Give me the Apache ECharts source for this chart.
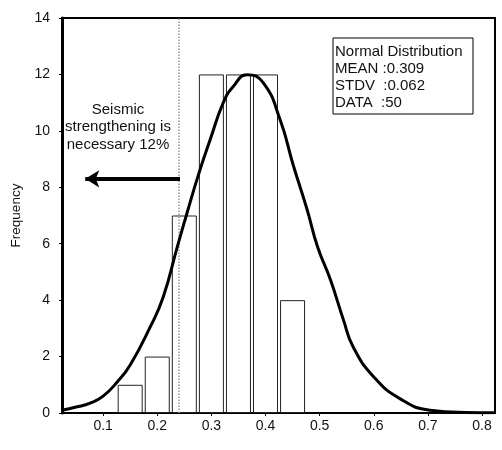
<!DOCTYPE html>
<html>
<head>
<meta charset="utf-8">
<script src="https://cdn.jsdelivr.net/npm/echarts@6/dist/echarts.min.js"></script>
<style>html,body{margin:0;padding:0;background:#fff}#c{width:502px;height:450px}</style>
</head>
<body>
<div id="c"></div>
<script>
// Histogram bins (bin centre) and frequencies
var binCenters = [0.15, 0.20, 0.25, 0.30, 0.35, 0.40, 0.45];
var frequencies = [1, 2, 7, 12, 12, 12, 4];
// Fitted curve as drawn
var curveX = [0.024,0.05,0.076,0.1,0.126,0.15,0.187,0.211,0.237,0.255,0.276,0.298,0.322,0.34,0.366,0.396,0.427,0.451,0.477,0.496,0.52,0.544,0.562,0.6,0.649,0.704,0.77,0.824];
var curveY = [0.1,0.21,0.35,0.6,1.1,1.7,3.05,4.11,5.89,7.09,8.44,9.7,11.0,11.56,11.99,11.7,10.39,8.8,7.2,5.9,4.72,3.3,2.34,1.28,0.5,0.1,0.02,0.01];
var xTicks = [0.1,0.2,0.3,0.4,0.5,0.6,0.7,0.8];
var thresholdX = 0.242;
var arrowY = 8.3;
var arrowTipX = 0.067;
var annotation = ['Seismic', 'strengthening is', 'necessary 12%'];
var infoLines = ['Normal Distribution', 'MEAN :0.309', 'STDV  :0.062', 'DATA  :50'];

var FONT = 'Liberation Sans, Arial, sans-serif';
var chart = echarts.init(document.getElementById('c'), null, {renderer: 'canvas'});
chart.setOption({
  animation: false,
  backgroundColor: '#fff',
  grid: {left: 62, top: 18, right: 7, bottom: 37, show: true, borderColor: '#000', borderWidth: 2, backgroundColor: '#fff'},
  xAxis: {
    type: 'value', min: 0.024, max: 0.824,
    axisLine: {show: true, lineStyle: {color: '#000', width: 2}},
    axisTick: {show: true, length: 3, customValues: xTicks, lineStyle: {color: '#000'}},
    axisLabel: {customValues: xTicks, color: '#111', fontFamily: FONT, fontSize: 14, margin: 6,
      formatter: function (v) { return String(Math.round(v * 10) / 10); }},
    splitLine: {show: false}
  },
  yAxis: {
    type: 'value', min: 0, max: 14, interval: 2,
    name: 'Frequency', nameLocation: 'middle', nameGap: 30, nameRotate: 90,
    nameTextStyle: {color: '#111', fontFamily: FONT, fontSize: 13.5},
    axisLine: {show: true, lineStyle: {color: '#000', width: 3}},
    axisTick: {show: true, length: 3, lineStyle: {color: '#000'}},
    axisLabel: {color: '#111', fontFamily: FONT, fontSize: 14, margin: 12},
    splitLine: {show: false}
  },
  series: [
    {
      type: 'bar',
      data: binCenters.map(function (c, i) { return [c, frequencies[i]]; }),
      barWidth: 25,
      itemStyle: {color: '#fff', borderColor: '#222', borderWidth: 1},
      z: 2,
      markLine: {
        silent: true,
        animation: false,
        symbol: ['none', 'none'],
        data: [
          {xAxis: thresholdX, lineStyle: {type: 'dotted', color: '#999', width: 1.5}, label: {show: false}},
          [
            {coord: [thresholdX, arrowY], symbol: 'none'},
            {coord: [arrowTipX, arrowY], symbol: 'arrow', symbolSize: [13, 14]}
          ]
        ],
        lineStyle: {color: '#000', width: 4, type: 'solid'},
        label: {show: false}
      }
    },
    {
      type: 'line',
      data: curveX.map(function (x, i) { return [x, curveY[i]]; }),
      smooth: 0.5,
      showSymbol: false,
      lineStyle: {color: '#000', width: 3},
      z: 5
    }
  ],
  graphic: [
    {type: 'text', x: 118, y: 101, z: 100,
      style: {text: annotation.join('\n'), textAlign: 'center', fill: '#111', font: '15px ' + FONT, lineHeight: 17.5}},
    {type: 'rect', x: 333, y: 38, z: 100, shape: {width: 140, height: 76},
      style: {fill: '#fff', stroke: '#000', lineWidth: 1}},
    {type: 'text', x: 335, y: 43, z: 101,
      style: {text: infoLines.join('\n'), fill: '#111', font: '15px ' + FONT, lineHeight: 17}}
  ]
});
</script>
</body>
</html>
